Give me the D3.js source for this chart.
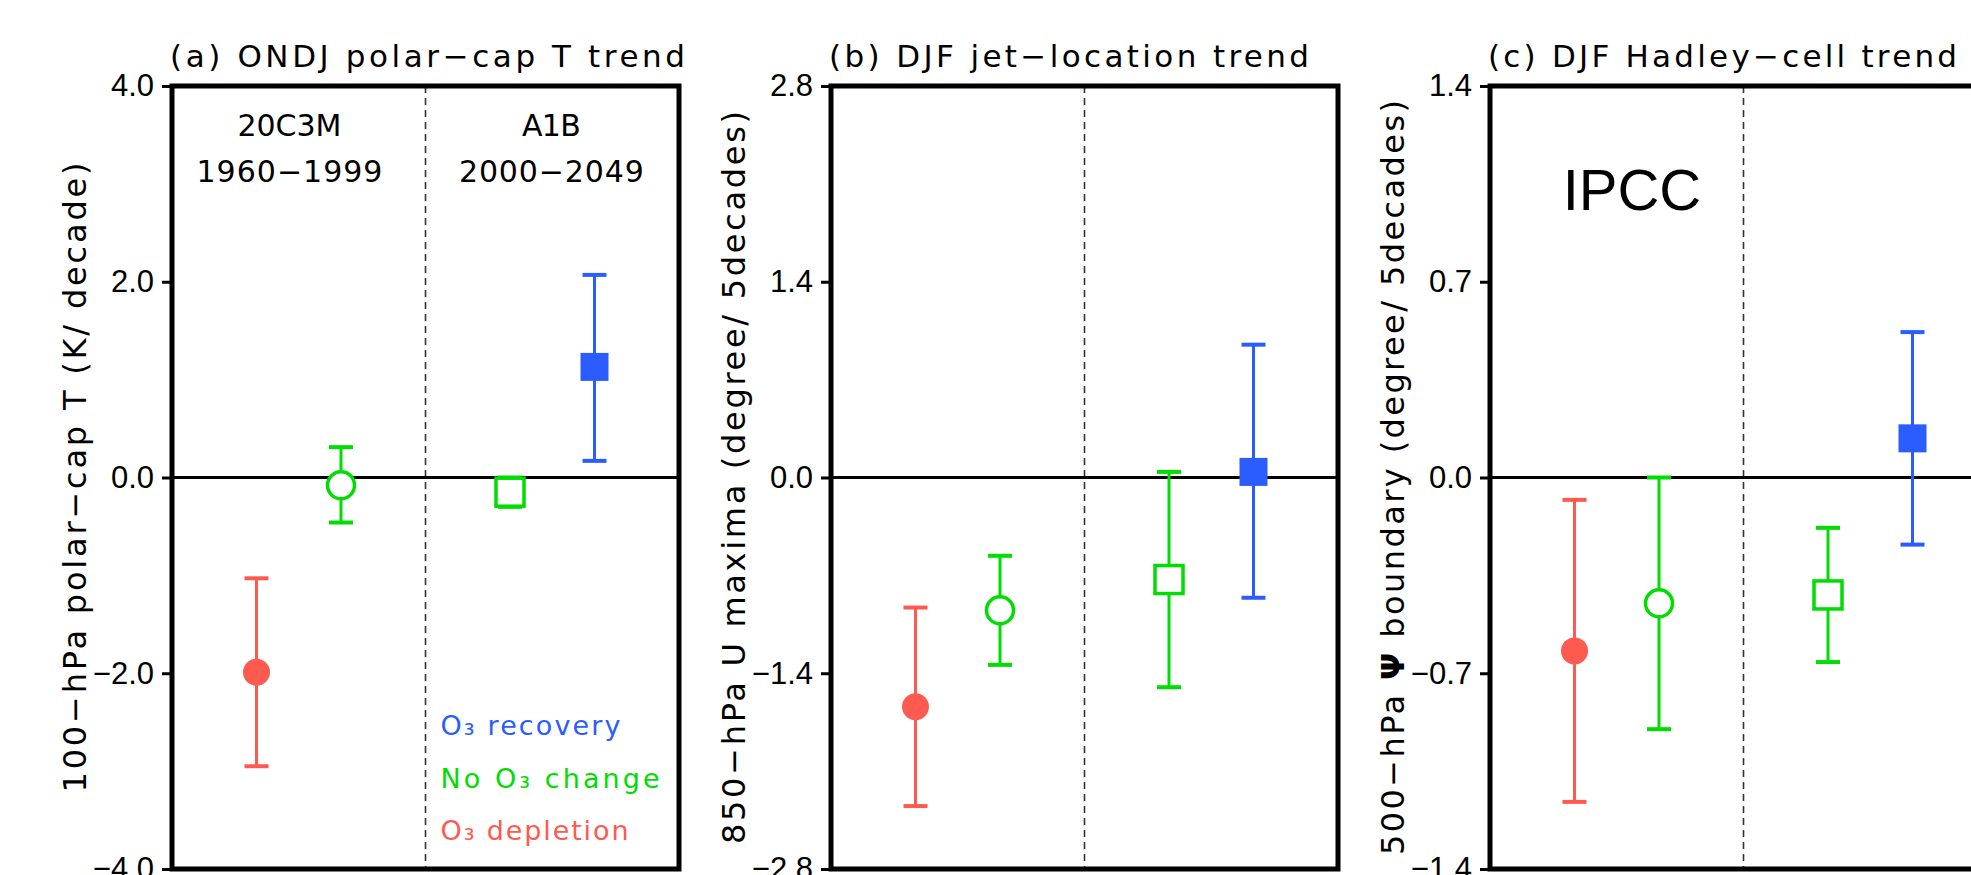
<!DOCTYPE html>
<html>
<head>
<meta charset="utf-8">
<script src="https://cdn.jsdelivr.net/npm/d3@7"></script>
<style>
  body { margin: 0; background: #fff; }
  svg { display: block; }
  .lbl { font-family: "DejaVu Sans", sans-serif; fill: #000; }
  .tick text { font-family: "Liberation Sans", Arial, sans-serif; font-size: 31px; fill: #000; }
</style>
</head>
<body>
<div id="chart"></div>
<script>
// values
const titles = ["(a) ONDJ polar\u2212cap T trend", "(b) DJF jet\u2212location trend", "(c) DJF Hadley\u2212cell trend"]
const yLabels = [
  ["100\u2212hPa polar\u2212cap T (K/ decade)"],
  ["850\u2212hPa U maxima (degree/ 5decades)"],
  ["500\u2212hPa ", "\u03A8", " boundary (degree/ 5decades)"]
]
const yMax = [4.0, 2.8, 1.4]
const yTicks = [[-4, -2, 0, 2, 4], [-2.8, -1.4, 0, 1.4, 2.8], [-1.4, -0.7, 0, 0.7, 1.4]]

// four runs per panel: 20C3M O3 depletion, 20C3M no O3 change, A1B no O3 change, A1B O3 recovery
const xPos = [1, 2, 4, 5]
const shapes = ["circle", "circle", "square", "square"]
const filled = [true, false, false, true]
const colors = ["#ff5a50", "#00dd00", "#00dd00", "#2b5cff"]

const meanA = [-1.99, -0.08, -0.15, 1.13]
const lowA  = [-2.95, -0.46, -0.30, 0.17]
const highA = [-1.03,  0.31,  0.00, 2.07]

const meanB = [-1.64, -0.95, -0.73, 0.04]
const lowB  = [-2.35, -1.34, -1.50, -0.86]
const highB = [-0.93, -0.56,  0.04,  0.95]

const meanC = [-0.62, -0.45, -0.42, 0.14]
const lowC  = [-1.16, -0.90, -0.66, -0.24]
const highC = [-0.08,  0.00, -0.18,  0.52]

const means = [meanA, meanB, meanC]
const lows = [lowA, lowB, lowC]
const highs = [highA, highB, highC]

const legendText = ["O\u2083 recovery", "No O\u2083 change", "O\u2083 depletion"]
const legendColor = ["#2b5cff", "#00dd00", "#ff5a50"]

// layout
const W = 1971, H = 875
const left0 = 172, top0 = 86
const panelW = 507, panelH = 783, step = 659
const titleLen = [515, 480, 469]
const yLabLen = [630, 733, 755]

const svg = d3.select("#chart").append("svg")
  .attr("width", W).attr("height", H)

titles.forEach((t, i) => {
  const g = svg.append("g")
    .attr("transform", "translate(" + (left0 + i * step) + "," + top0 + ")")

  const x = d3.scaleLinear().domain([0, 6]).range([0, panelW])
  const y = d3.scaleLinear().domain([-yMax[i], yMax[i]]).range([panelH, 0])

  // dashed separator between 20C3M and A1B
  g.append("line")
    .attr("x1", x(3)).attr("x2", x(3))
    .attr("y1", 0).attr("y2", panelH)
    .attr("stroke", "#333").attr("stroke-width", 1.6)
    .attr("stroke-dasharray", "7,5")

  // zero line
  g.append("line")
    .attr("x1", 0).attr("x2", panelW)
    .attr("y1", y(0)).attr("y2", y(0))
    .attr("stroke", "#000").attr("stroke-width", 3)

  // y axis
  const ax = g.append("g")
    .call(d3.axisLeft(y).tickValues(yTicks[i]).tickSize(10).tickPadding(8)
      .tickFormat(d3.format(".1f")))
  ax.select(".domain").remove()
  ax.selectAll(".tick line").attr("stroke-width", 3)

  // error bars
  const runs = xPos.map((p, k) => ({ p: p, m: means[i][k], lo: lows[i][k], hi: highs[i][k], k: k }))
  g.selectAll(".bar").data(runs).enter().append("line")
    .attr("x1", d => x(d.p)).attr("x2", d => x(d.p))
    .attr("y1", d => y(d.lo)).attr("y2", d => y(d.hi))
    .attr("stroke", d => colors[d.k]).attr("stroke-width", 3)
  ;["lo", "hi"].forEach(end => {
    g.selectAll(".cap" + end).data(runs).enter().append("line")
      .attr("x1", d => x(d.p) - 12).attr("x2", d => x(d.p) + 12)
      .attr("y1", d => y(d[end])).attr("y2", d => y(d[end]))
      .attr("stroke", d => colors[d.k]).attr("stroke-width", 4)
  })

  // markers
  runs.forEach(d => {
    const fill = filled[d.k] ? colors[d.k] : "#fff"
    const stroke = filled[d.k] ? "none" : colors[d.k]
    if (shapes[d.k] === "circle") {
      g.append("circle")
        .attr("cx", x(d.p)).attr("cy", y(d.m)).attr("r", 13.5)
        .attr("fill", fill).attr("stroke", stroke).attr("stroke-width", 3.5)
    } else {
      g.append("rect")
        .attr("x", x(d.p) - 14).attr("y", y(d.m) - 14)
        .attr("width", 28).attr("height", 28)
        .attr("fill", fill).attr("stroke", stroke).attr("stroke-width", 3.5)
    }
  })

  // frame
  g.append("rect")
    .attr("width", panelW).attr("height", panelH)
    .attr("fill", "none").attr("stroke", "#000").attr("stroke-width", 5)

  // title
  g.append("text").attr("class", "lbl")
    .attr("x", -2).attr("y", -19)
    .attr("font-size", 31)
    .attr("textLength", titleLen[i]).attr("lengthAdjust", "spacing")
    .text(t)

  // y label
  const yl = g.append("text").attr("class", "lbl")
    .attr("transform", "translate(-86," + (panelH / 2) + ") rotate(-90)")
    .attr("text-anchor", "middle")
    .attr("font-size", 32)
    .attr("textLength", yLabLen[i]).attr("lengthAdjust", "spacing")
  yLabels[i].forEach(s => {
    yl.append("tspan").attr("font-weight", s === "\u03A8" ? "bold" : null).text(s)
  })

  if (i === 0) {
    const ann = [
      { t: "20C3M", xv: 1.39, y: 50, len: 104 },
      { t: "1960\u22121999", xv: 1.39, y: 96, len: 186 },
      { t: "A1B", xv: 4.49, y: 50, len: 59 },
      { t: "2000\u22122049", xv: 4.49, y: 96, len: 185 }
    ]
    ann.forEach(a => {
      g.append("text").attr("class", "lbl")
        .attr("x", x(a.xv)).attr("y", a.y)
        .attr("text-anchor", "middle").attr("font-size", 30)
        .attr("textLength", a.len).attr("lengthAdjust", "spacing")
        .text(a.t)
    })
    const legLen = [180, 219, 188]
    legendText.forEach((s, k) => {
      g.append("text").attr("class", "lbl")
        .attr("x", x(3) + 15).attr("y", 649 + k * 52.5)
        .attr("font-size", 27)
        .style("fill", legendColor[k])
        .attr("textLength", legLen[k]).attr("lengthAdjust", "spacing")
        .text(s)
    })
  }

  if (i === 2) {
    g.append("text")
      .attr("x", x(1.68)).attr("y", 124)
      .attr("text-anchor", "middle")
      .style("font-family", "'Liberation Sans', Arial, sans-serif")
      .attr("font-size", 58)
      .text("IPCC")
  }
})
</script>
</body>
</html>
